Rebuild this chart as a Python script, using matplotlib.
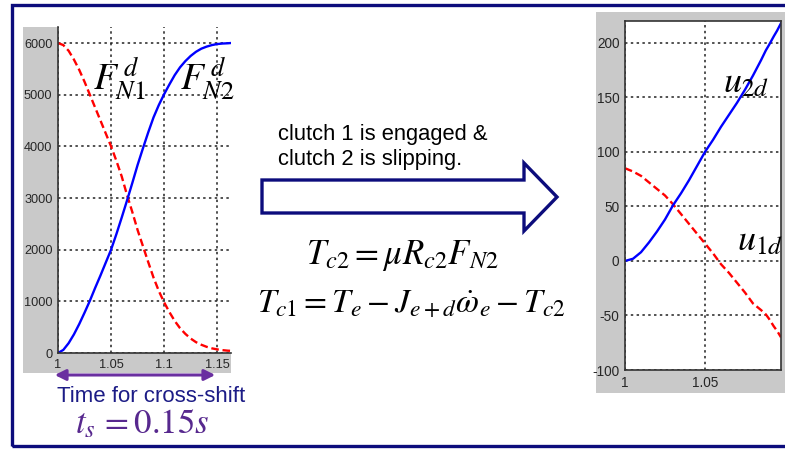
import matplotlib
matplotlib.use("Agg")
import matplotlib.pyplot as plt
from matplotlib.patches import Rectangle, Polygon, FancyArrowPatch

# ---- clutch normal forces during the cross-shift ----
t_force = [1.000, 1.005, 1.010, 1.015, 1.020, 1.025, 1.030, 1.035, 1.040, 1.045,
           1.050, 1.055, 1.060, 1.065, 1.070, 1.075, 1.080, 1.085, 1.090, 1.095,
           1.100, 1.105, 1.110, 1.115, 1.120, 1.125, 1.130, 1.135, 1.140, 1.145,
           1.150, 1.155, 1.160, 1.163]
fn1_desired = [6000, 5960, 5850, 5680, 5480, 5250, 5000, 4750, 4500, 4250,
               4000, 3720, 3420, 3060, 2730, 2380, 2070, 1760, 1460, 1200,
               980, 790, 620, 480, 370, 280, 210, 160, 120, 90,
               70, 55, 45, 42]
fn2_desired = [0, 60, 190, 360, 560, 780, 1010, 1260, 1500, 1750,
               2000, 2300, 2620, 2950, 3290, 3640, 3960, 4270, 4560, 4800,
               5010, 5200, 5380, 5530, 5650, 5750, 5830, 5890, 5930, 5960,
               5980, 5990, 5995, 6000]
force_yticks = [0, 1000, 2000, 3000, 4000, 5000, 6000]
force_xticks = [1.0, 1.05, 1.1, 1.15]
force_xticklabels = ["1", "1.05", "1.1", "1.15"]

# ---- control inputs ----
t_input = [1.000, 1.005, 1.010, 1.015, 1.020, 1.025, 1.030, 1.035, 1.040, 1.045,
           1.050, 1.055, 1.060, 1.065, 1.070, 1.075, 1.080, 1.085, 1.088, 1.090,
           1.093, 1.095, 1.0975]
u2_desired = [0, 2, 8, 17, 27, 38, 51, 62, 74, 87,
              100, 111, 123, 134, 145, 157, 170, 184, 193, 198,
              206, 211, 218]
u1_desired = [85, 82, 78, 72, 66, 60, 52, 43, 34, 25,
              16, 7, -3, -11, -20, -29, -39, -45, -49, -53,
              -60, -64, -70]
input_yticks = [-100, -50, 0, 50, 100, 150, 200]
input_xticks = [1.0, 1.05]
input_xticklabels = ["1", "1.05"]

W, H = 785, 449
plt.rcParams["mathtext.fontset"] = "stix"
plt.rcParams["axes.unicode_minus"] = False
fig = plt.figure(figsize=(W / 100, H / 100), dpi=100)
fig.patch.set_facecolor("white")

NAVY = "#0c0c7c"
PURPLE = "#6a2fa0"
GRAY = "#c9c9c9"
TICK_FONT = "Liberation Sans"


def fx(x):
    return x / W


def fy(y):
    return 1 - y / H


def box(x0, y0, x1, y1):
    return [x0 / W, 1 - y1 / H, (x1 - x0) / W, (y1 - y0) / H]


def panel(x0, y0, x1, y1):
    fig.patches.append(Rectangle((fx(x0), fy(y1)), (x1 - x0) / W, (y1 - y0) / H,
                                 transform=fig.transFigure, facecolor=GRAY,
                                 edgecolor="none", zorder=-5))


def style_axes(ax, fs):
    ax.set_facecolor("white")
    ax.grid(True, color="#222222", linestyle=(0, (1.6, 2.2)), linewidth=1.1)
    ax.set_axisbelow(True)
    ax.tick_params(length=0, labelsize=fs, colors="#262626", pad=4)
    for lbl in ax.get_xticklabels() + ax.get_yticklabels():
        lbl.set_fontfamily(TICK_FONT)


# outer frame
fig.patches.append(Rectangle((fx(11.5), fy(446)), 900 / W, (446 - 4.5) / H,
                             transform=fig.transFigure, facecolor="none",
                             edgecolor=NAVY, linewidth=2.4, zorder=1))

# ---- left chart: normal forces ----
panel(23, 27, 231, 373)
ax1 = fig.add_axes(box(58, 27, 231, 353))
ax1.plot(t_force, fn1_desired, color="red", linestyle=(0, (3.2, 1.6)), linewidth=1.7)
ax1.plot(t_force, fn2_desired, color="blue", linewidth=1.7)
ax1.set_xlim(1.0, 1.163)
ax1.set_ylim(0, 6310)
ax1.set_xticks(force_xticks)
ax1.set_xticklabels(force_xticklabels)
ax1.set_yticks(force_yticks)
style_axes(ax1, 9.2)
for s in ("top", "right"):
    ax1.spines[s].set_visible(False)
for s in ("left", "bottom"):
    ax1.spines[s].set_color("#333333")
    ax1.spines[s].set_linewidth(1.2)

fig.text(fx(93), fy(90), r"$F_{N1}^{\,d}$", fontsize=27, ha="left", va="baseline")
fig.text(fx(180), fy(90), r"$F_{N2}^{\,d}$", fontsize=27, ha="left", va="baseline")

# cross-shift duration marker
fig.patches.append(FancyArrowPatch((fx(52), fy(375)), (fx(218), fy(375)),
                                   transform=fig.transFigure, arrowstyle="<|-|>",
                                   mutation_scale=16, color=PURPLE, linewidth=2.2))
fig.text(fx(57), fy(402), "Time for cross-shift", fontsize=16, color="#1c1c86",
         family="Liberation Sans", ha="left", va="baseline")
fig.text(fx(75), fy(433), r"$t_s\,=0.15s$", fontsize=25, color="#57288e",
         ha="left", va="baseline")

# ---- middle: hollow arrow, note and torque equations ----
arrow_pts = [(262, 180), (524, 180), (524, 163), (557, 197), (524, 231), (524, 213), (262, 213)]
fig.patches.append(Polygon([(fx(x), fy(y)) for x, y in arrow_pts], closed=True,
                           transform=fig.transFigure, facecolor="white",
                           edgecolor=NAVY, linewidth=2.4, joinstyle="miter", zorder=2))
fig.text(fx(278), fy(140), "clutch 1 is engaged &", fontsize=15.8,
         family="Liberation Sans", ha="left", va="baseline")
fig.text(fx(278), fy(165), "clutch 2 is slipping.", fontsize=15.8,
         family="Liberation Sans", ha="left", va="baseline")
fig.text(fx(402), fy(264), r"$T_{c2}=\mu R_{c2}F_{N2}$", fontsize=25,
         ha="center", va="baseline")
fig.text(fx(411), fy(313), r"$T_{c1}=T_e-J_{e+d}\dot{\omega}_e-T_{c2}$", fontsize=24,
         ha="center", va="baseline")

# ---- right chart: control inputs ----
panel(596, 12, 785, 393)
ax2 = fig.add_axes(box(625, 21, 781, 370))
ax2.plot(t_input, u1_desired, color="red", linestyle=(0, (3.2, 1.6)), linewidth=1.7)
ax2.plot(t_input, u2_desired, color="blue", linewidth=1.7)
ax2.set_xlim(1.0, 1.0975)
ax2.set_ylim(-100, 220)
ax2.set_xticks(input_xticks)
ax2.set_xticklabels(input_xticklabels)
ax2.set_yticks(input_yticks)
style_axes(ax2, 9.8)
for s in ax2.spines.values():
    s.set_color("#333333")
    s.set_linewidth(1.2)

fig.text(fx(723), fy(92), r"$u_{2d}$", fontsize=26, ha="left", va="baseline")
fig.text(fx(737), fy(250), r"$u_{1d}$", fontsize=26, ha="left", va="baseline")

fig.savefig("out.png", dpi=100)
